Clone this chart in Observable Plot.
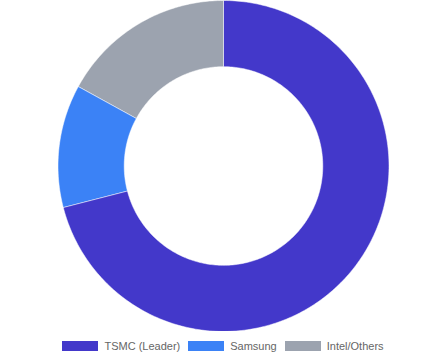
<!DOCTYPE html>
<html>
<head>
<meta charset="utf-8">
<script src="https://cdn.jsdelivr.net/npm/d3@7"></script>
<script src="https://cdn.jsdelivr.net/npm/@observablehq/plot@0.6"></script>
<style>
  html, body { margin: 0; padding: 0; background: #fff; }
  #wrap { width: 446px; height: 360px; overflow: hidden; }
  #legend { display: flex; justify-content: center; align-items: center; height: 10px; margin-top: 10px;
    font-family: "Liberation Sans", Arial, Helvetica, sans-serif; font-size: 11px; color: #666; }
  .item { display: flex; align-items: center; margin: 0 4px; }
  .sw { width: 36px; height: 10px; margin-right: 6px; }
</style>
</head>
<body>
<div id="wrap"></div>
<script>
const categories = ["TSMC (Leader)", "Samsung", "Intel/Others"];
const shares = [71, 12, 17];
const colors = ["#4338ca", "#3b82f6", "#9ca3af"];

const W = 446, H = 331;
const inner = 0.6;
const total = d3.sum(shares);
const pts = [];
let start = 0;
categories.forEach((c, i) => {
  const a0 = start / total * 2 * Math.PI;
  const a1 = (start + shares[i]) / total * 2 * Math.PI;
  start += shares[i];
  const n = Math.max(8, Math.ceil((a1 - a0) / (Math.PI / 180)));
  for (let k = 0; k <= n; k++) {
    const a = a0 + (a1 - a0) * k / n;
    pts.push({cat: c, x: Math.sin(a), y: Math.cos(a)});
  }
  for (let k = n; k >= 0; k--) {
    const a = a0 + (a1 - a0) * k / n;
    pts.push({cat: c, x: inner * Math.sin(a), y: inner * Math.cos(a)});
  }
});

const R = H / 2;
const chart = Plot.plot({
  width: W, height: H,
  margin: 0,
  x: {domain: [-(W / 2) / R, (W / 2) / R], axis: null},
  y: {domain: [-1, 1], axis: null},
  color: {domain: categories, range: colors},
  marks: [
    Plot.line(pts, {x: "x", y: "y", z: "cat", fill: "cat", stroke: "#fff", strokeWidth: 0.5, curve: "linear-closed"})
  ]
});
document.getElementById("wrap").appendChild(chart);

const legend = document.createElement("div");
legend.id = "legend";
categories.forEach((c, i) => {
  const it = document.createElement("div");
  it.className = "item";
  const sw = document.createElement("span");
  sw.className = "sw";
  sw.style.background = colors[i];
  const tx = document.createElement("span");
  tx.textContent = c;
  it.appendChild(sw); it.appendChild(tx);
  legend.appendChild(it);
});
document.getElementById("wrap").appendChild(legend);
</script>
</body>
</html>
